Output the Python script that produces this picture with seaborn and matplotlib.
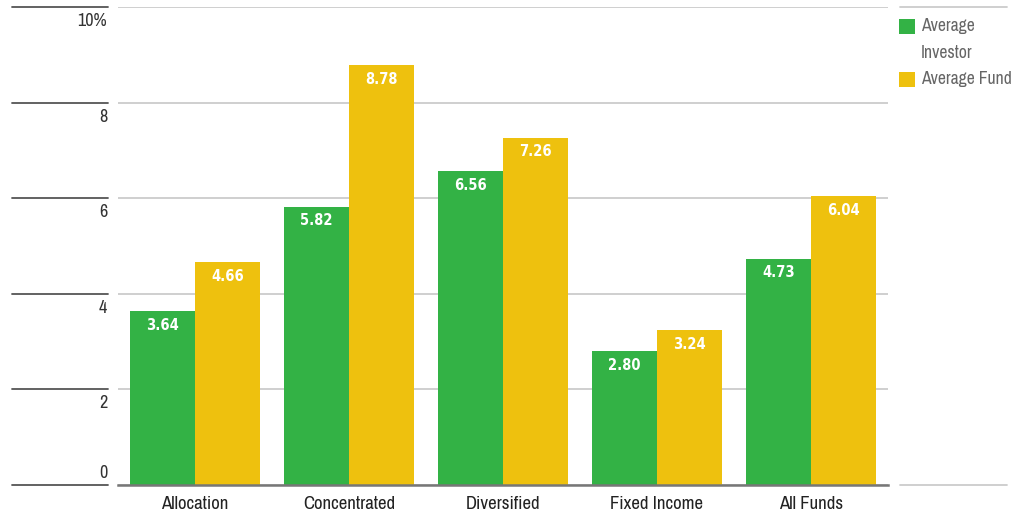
import matplotlib
matplotlib.use("Agg")
import matplotlib.pyplot as plt
import matplotlib.transforms as mtransforms
from matplotlib.lines import Line2D
from matplotlib.patches import Rectangle
from matplotlib import font_manager
import seaborn as sns
import pandas as pd

categories = ["Allocation", "Concentrated", "Diversified", "Fixed Income", "All Funds"]
investor = [3.64, 5.82, 6.56, 2.80, 4.73]
fund = [4.66, 8.78, 7.26, 3.24, 6.04]
series_names = ["Average Investor", "Average Fund"]
legend_lines = [["Average", "Investor"], ["Average Fund"]]
yticks = [0, 2, 4, 6, 8, 10]
ytick_labels = ["0", "2", "4", "6", "8", "10%"]

GREEN = "#33B245"
YELLOW = "#EEC10E"

sns.set_theme(style="white")
fonts = font_manager.fontManager.ttflist
names = sorted({f.name for f in fonts})
cond = [n for n in names if ("Condensed" in n or "Narrow" in n)]
fam = cond[0] if cond else "Roboto"
plt.rcParams["font.family"] = [fam, "DejaVu Sans"]

# bold condensed face for value labels
bold_props = None
for f in fonts:
    if f.name == fam and (f.weight in ("bold", 700) or str(f.weight) == "700"):
        bold_props = font_manager.FontProperties(fname=f.fname)
        break
if bold_props is None:
    for f in fonts:
        if f.name == "DejaVu Sans" and "Condensed" in f.fname and "Bold" in f.fname and "Oblique" not in f.fname:
            bold_props = font_manager.FontProperties(fname=f.fname)
            break
if bold_props is None:
    bold_props = font_manager.FontProperties(family="Roboto", weight="bold")
bold_props.set_size(10.5)

df = pd.DataFrame({
    "category": categories * 2,
    "value": investor + fund,
    "series": [series_names[0]] * len(categories) + [series_names[1]] * len(categories),
})

fig = plt.figure(figsize=(10.30, 5.14), dpi=100)
W, H = 1030, 514
ax = fig.add_axes([118 / W, 29 / H, 770 / W, 478 / H])

sns.barplot(data=df, x="category", y="value", hue="series", order=categories,
            hue_order=series_names, palette=[GREEN, YELLOW], width=0.85,
            gap=0, saturation=1, ax=ax, legend=False, errorbar=None, zorder=3,
            linewidth=0, edgecolor="none")

ax.set_ylim(0, 10)
ax.set_xlim(-0.5, len(categories) - 0.5)
ax.set_yticks(yticks)
ax.set_yticklabels([])
ax.tick_params(axis="y", length=0)
ax.tick_params(axis="x", length=0, pad=8, labelsize=13.5, labelcolor="#222222")
ax.set_xlabel("")
ax.set_ylabel("")
ax.grid(axis="y", color="#cccccc", linewidth=1.3, zorder=0)
for s in ["top", "right", "left"]:
    ax.spines[s].set_visible(False)
ax.spines["bottom"].set_color("#777777")
ax.spines["bottom"].set_linewidth(1.8)
ax.spines["bottom"].set_zorder(4)

# left label panel rules and tick labels
tr = mtransforms.blended_transform_factory(fig.transFigure, ax.transData)
for v, lab in zip(yticks, ytick_labels):
    fig.add_artist(Line2D([12 / W, 108 / W], [v, v], transform=tr,
                          color="#555555", linewidth=1.3))
    if v == yticks[0]:
        off = mtransforms.offset_copy(tr, fig=fig, x=0, y=4, units="dots")
        va = "bottom"
    else:
        off = mtransforms.offset_copy(tr, fig=fig, x=0, y=-6, units="dots")
        va = "top"
    fig.text(107 / W, v, lab, transform=off, ha="right", va=va,
             fontsize=13, color="#333333")

# right legend panel rules
for v in [0, 10]:
    fig.add_artist(Line2D([900 / W, 1007 / W], [v, v], transform=tr,
                          color="#cccccc", linewidth=1.3))

# value labels inside bars
for cont in ax.containers:
    for bar in cont:
        x = bar.get_x() + bar.get_width() / 2
        h = bar.get_height()
        ax.annotate(f"{h:.2f}", (x, h), xytext=(0, -14), textcoords="offset pixels",
                    ha="center", va="center", color="white",
                    fontproperties=bold_props, zorder=5)

# legend (drawn manually to match wrapped layout)
line_y = 26
for color, lines in zip([GREEN, YELLOW], legend_lines):
    fig.add_artist(Rectangle((899 / W, 1 - (line_y + 8) / H), 16 / W, 15 / H,
                             transform=fig.transFigure, facecolor=color,
                             edgecolor="none"))
    for ln in lines:
        fig.text(921 / W, 1 - line_y / H, ln, ha="left", va="center",
                 fontsize=12.7, color="#666666")
        line_y += 26.5

fig.savefig("out.png", dpi=100)
